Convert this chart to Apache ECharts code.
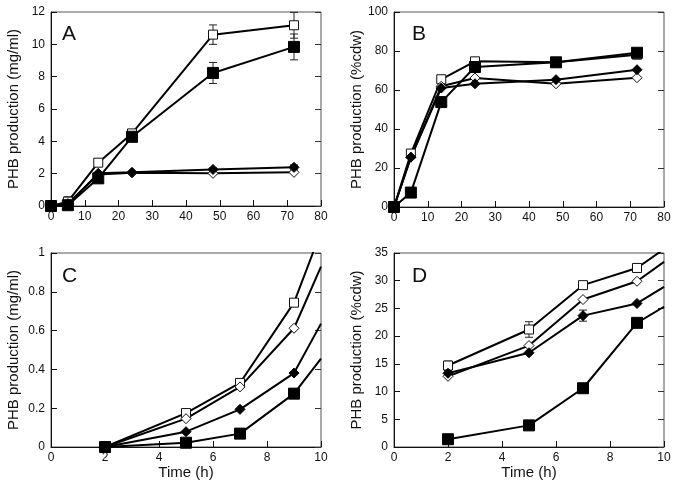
<!DOCTYPE html>
<html style="height: 100%">
   <head>
       <meta charset="utf-8">
   </head>
   <body style="height: 100%; margin: 0; background: #fff">
       <div id="container" style="height: 487px; width: 679px"></div>
       <script type="text/javascript" src="https://cdn.jsdelivr.net/npm/echarts/dist/echarts.min.js"></script>
       <script type="text/javascript">
// time points (h)
var timeAB = [0, 5, 14, 24, 48, 72];
var timeCD = [2, 5, 7, 9];

// panel A, PHB (mg/ml)
var openSqA = [0, 0.27, 2.68, 4.49, 10.6, 11.18];
var filledSqA = [0, 0.05, 1.71, 4.28, 8.23, 9.84];
var filledDiaA = [0, 0.1, 2.02, 2.08, 2.26, 2.39];
var openDiaA = [0, 0.15, 1.95, 2.05, 2.02, 2.08];
var openSqErrA = [0, 0.3, 0.15, 0.15, 0.6, 0.8];
var filledSqErrA = [0, 0, 0, 0, 0.65, 0.8];
var filledDiaErrA = [0, 0, 0, 0, 0.1, 0.15];

// panel B, PHB (%cdw)
var openSqB = [0, 27.4, 65.5, 74.7, 74.2, 78.1];
var filledSqB = [0, 7.4, 53.8, 71.8, 74.2, 79.1];
var filledDiaB = [0, 25.5, 61, 63.2, 65.3, 70.4];
var openDiaB = [0, 25.6, 61.9, 66.2, 63.2, 66.3];

// panel C, PHB (mg/ml), last value = where the line leaves the frame at 10 h
var openSqC = [0, 0.175, 0.33, 0.744];
var openDiaC = [0, 0.146, 0.31, 0.612];
var filledDiaC = [0, 0.079, 0.194, 0.381];
var filledSqC = [0, 0.022, 0.069, 0.275];
var edgeC = [1.11, 0.93, 0.636, 0.455];

// panel D, PHB (%cdw)
var openSqD = [14.7, 21.2, 29.2, 32.3];
var openDiaD = [12.75, 18.3, 26.6, 29.9];
var filledDiaD = [13.3, 17.0, 23.7, 25.9];
var filledSqD = [1.4, 3.9, 10.6, 22.4];
var edgeD = [35.7, 33.4, 28.9, 25.3];
var openSqErrD = [0.8, 1.4, 0.6, 0.6];
var filledDiaErrD = [0.5, 0, 1.0, 0];

var edgeX = 10;
var font = 'Liberation Sans, Arial, sans-serif';

var dom = document.getElementById("container");
var myChart = echarts.init(dom);

var grids = [
    {left: 51, top: 12, width: 270, height: 194},
    {left: 394, top: 12, width: 270, height: 195},
    {left: 51, top: 253, width: 270, height: 194},
    {left: 394, top: 253, width: 270, height: 194}
];
grids.forEach(function (g) {
    g.show = true;
    g.borderColor = '#555';
    g.borderWidth = 1;
});

function xAx(i, max, interval, name) {
    return {
        gridIndex: i, type: 'value', min: 0, max: max, interval: interval,
        name: name || '', nameLocation: 'middle', nameGap: 17,
        nameTextStyle: {fontSize: 15, color: '#111', fontFamily: font},
        axisLine: {lineStyle: {color: '#111', width: 1}},
        axisTick: {inside: true, length: 6, lineStyle: {color: '#111'}},
        axisLabel: {fontSize: 12, color: '#111', fontFamily: font, margin: 5},
        splitLine: {show: false}
    };
}
function yAx(i, max, interval, name) {
    return {
        gridIndex: i, type: 'value', min: 0, max: max, interval: interval,
        name: name, nameLocation: 'middle', nameGap: 30,
        nameTextStyle: {fontSize: 15, color: '#111', fontFamily: font},
        axisLine: {show: true, lineStyle: {color: '#111', width: 1}},
        axisTick: {show: true, inside: true, length: 6, lineStyle: {color: '#111'}},
        axisLabel: {fontSize: 12, color: '#111', fontFamily: font, margin: 6},
        splitLine: {show: false}
    };
}
function yRight(i, max, interval) {
    return {
        gridIndex: i, type: 'value', position: 'right', min: 0, max: max, interval: interval,
        axisLine: {show: false},
        axisTick: {show: true, inside: true, length: 6, lineStyle: {color: '#333'}},
        axisLabel: {show: false},
        splitLine: {show: false}
    };
}

var styles = {
    openSq: {symbol: 'rect', symbolSize: 9, itemStyle: {color: '#fff', borderColor: '#111', borderWidth: 1}},
    openDia: {symbol: 'diamond', symbolSize: 10, itemStyle: {color: '#fff', borderColor: '#111', borderWidth: 1}},
    filledDia: {symbol: 'diamond', symbolSize: 10, itemStyle: {color: '#000', borderColor: '#000', borderWidth: 1}},
    filledSq: {symbol: 'rect', symbolSize: 11, itemStyle: {color: '#000', borderColor: '#000', borderWidth: 1}}
};

function lineSeries(i, kind, xs, ys, edge) {
    var data = xs.map(function (x, k) { return [x, ys[k]]; });
    if (edge !== undefined) {
        data.push({value: [edgeX, edge], symbol: 'none'});
    }
    var s = styles[kind];
    return {
        type: 'line', xAxisIndex: i, yAxisIndex: i * 2,
        data: data, symbol: s.symbol, symbolSize: s.symbolSize,
        showSymbol: true, itemStyle: s.itemStyle,
        lineStyle: {color: '#000', width: 2},
        clip: true, animation: false, z: 3
    };
}

function errSeries(i, xs, ys, errs) {
    var data = [];
    xs.forEach(function (x, k) {
        if (errs[k] > 0) data.push([x, ys[k], errs[k]]);
    });
    return {
        type: 'custom', xAxisIndex: i, yAxisIndex: i * 2, data: data, z: 2,
        animation: false,
        renderItem: function (params, api) {
            var x = api.value(0), y = api.value(1), e = api.value(2);
            var hi = api.coord([x, y + e]);
            var lo = api.coord([x, y - e]);
            var w = 4;
            var st = {stroke: '#222', lineWidth: 1};
            return {
                type: 'group',
                children: [
                    {type: 'line', shape: {x1: hi[0], y1: hi[1], x2: lo[0], y2: lo[1]}, style: st},
                    {type: 'line', shape: {x1: hi[0] - w, y1: hi[1], x2: hi[0] + w, y2: hi[1]}, style: st},
                    {type: 'line', shape: {x1: lo[0] - w, y1: lo[1], x2: lo[0] + w, y2: lo[1]}, style: st}
                ]
            };
        }
    };
}

function letter(text, x, y) {
    return {type: 'text', left: x, top: y, z: 10,
        style: {text: text, fontSize: 21, fontFamily: font, fill: '#111'}};
}

option = {
    backgroundColor: '#fff',
    grid: grids,
    xAxis: [
        xAx(0, 80, 10), xAx(1, 80, 10),
        xAx(2, 10, 2, 'Time (h)'), xAx(3, 10, 2, 'Time (h)')
    ],
    yAxis: [
        yAx(0, 12, 2, 'PHB production (mg/ml)'), yRight(0, 12, 2),
        yAx(1, 100, 20, 'PHB production (%cdw)'), yRight(1, 100, 20),
        yAx(2, 1, 0.2, 'PHB production (mg/ml)'), yRight(2, 1, 0.2),
        yAx(3, 35, 5, 'PHB production (%cdw)'), yRight(3, 35, 5)
    ],
    graphic: [
        letter('A', 62, 24), letter('B', 412, 24),
        letter('C', 62, 266), letter('D', 412, 266)
    ],
    series: [
        errSeries(0, timeAB, openSqA, openSqErrA),
        errSeries(0, timeAB, filledSqA, filledSqErrA),
        errSeries(0, timeAB, filledDiaA, filledDiaErrA),
        lineSeries(0, 'openSq', timeAB, openSqA),
        lineSeries(0, 'openDia', timeAB, openDiaA),
        lineSeries(0, 'filledDia', timeAB, filledDiaA),
        lineSeries(0, 'filledSq', timeAB, filledSqA),

        lineSeries(1, 'openSq', timeAB, openSqB),
        lineSeries(1, 'openDia', timeAB, openDiaB),
        lineSeries(1, 'filledDia', timeAB, filledDiaB),
        lineSeries(1, 'filledSq', timeAB, filledSqB),

        lineSeries(2, 'openSq', timeCD, openSqC, edgeC[0]),
        lineSeries(2, 'openDia', timeCD, openDiaC, edgeC[1]),
        lineSeries(2, 'filledDia', timeCD, filledDiaC, edgeC[2]),
        lineSeries(2, 'filledSq', timeCD, filledSqC, edgeC[3]),

        errSeries(3, timeCD, openSqD, openSqErrD),
        errSeries(3, timeCD, filledDiaD, filledDiaErrD),
        lineSeries(3, 'openSq', timeCD, openSqD, edgeD[0]),
        lineSeries(3, 'openDia', timeCD, openDiaD, edgeD[1]),
        lineSeries(3, 'filledDia', timeCD, filledDiaD, edgeD[2]),
        lineSeries(3, 'filledSq', timeCD, filledSqD, edgeD[3])
    ]
};

if (option && typeof option === "object") {
    myChart.setOption(option, true);
}
       </script>
   </body>
</html>
